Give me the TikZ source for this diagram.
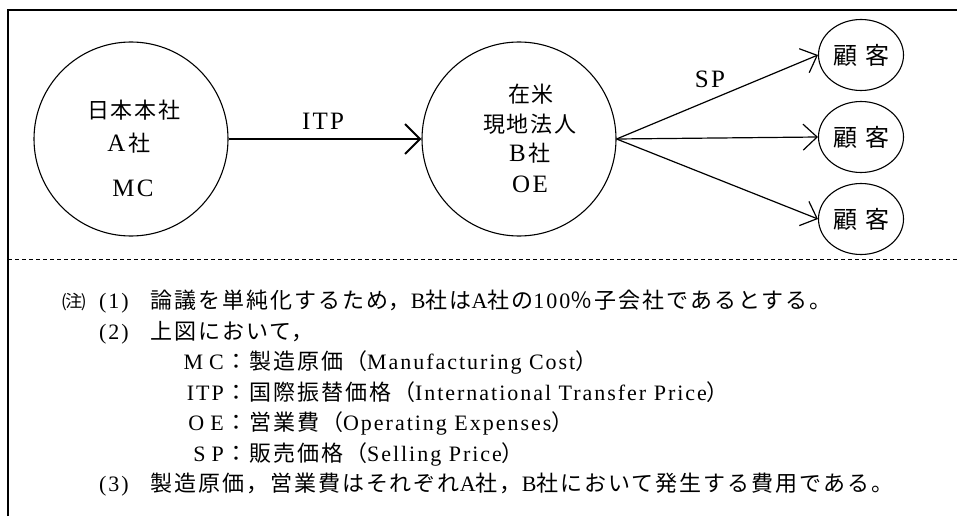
\documentclass[tikz,border=0pt]{standalone}
\usepackage{fontspec}
\setmainfont{Liberation Serif}
\newfontfamily\jp{Noto Sans CJK JP}
\newfontfamily\jps[LetterSpace=9]{Noto Sans CJK JP}
\newfontfamily\lts[LetterSpace=9]{Liberation Serif}
\usetikzlibrary{arrows.meta,shapes.geometric}
\tikzset{
  circ/.style={circle, draw, line width=1.1pt, minimum size=194pt, inner sep=0pt},
  cust/.style={ellipse, draw, line width=1.1pt, minimum width=85pt, minimum height=71pt, inner sep=0pt,
    font=\jp\fontsize{24}{24}\selectfont},
  jtxt/.style={inner sep=0pt, font=\jps\fontsize{22}{22}\selectfont},
  ltxt/.style={inner sep=0pt, font=\lts\fontsize{25}{25}\selectfont},
  leg/.style={inner sep=0pt, anchor=base west, font=\jps\fontsize{22}{22}\selectfont},
  legr/.style={inner sep=0pt, anchor=base east, font=\lts\fontsize{22}{22}\selectfont},
  itparrow/.style={line width=2pt, -{Straight Barb[length=15pt, width=30pt]}},
  sparrow/.style={line width=1.2pt, -{Straight Barb[length=14pt, width=26pt]}},
  frameline/.style={line width=1.3pt},
  sepline/.style={line width=1pt, dash pattern=on 4pt off 3pt}
}
\newcommand{\lat}[1]{{\lts #1}}
\begin{document}
\begin{tikzpicture}[x=1pt,y=-1pt]
\useasboundingbox (0,0) rectangle (957,516);
% frame
\coordinate (fbl) at (8,516);
\coordinate (ftl) at (8,10);
\coordinate (ftr) at (957,10);
\draw[frameline] (fbl) -- (ftl) -- (ftr);
\coordinate (sl) at (8,259);
\coordinate (sr) at (957,259);
\draw[sepline] (sl) -- (sr);

% nodes
\node[circ] (A) at (131,139) {};
\node[circ] (B) at (519,139) {};
\node[cust] (c1) at (861,55) {顧\hspace{8pt}客};
\node[cust] (c2) at (861,137) {顧\hspace{8pt}客};
\node[cust] (c3) at (861,219) {顧\hspace{8pt}客};

% texts in A
\node[jtxt] (a1) at (134,110) {日本本社};
\node[jtxt] (a2) at (129,143) {{\lts\fontsize{25}{25}\selectfont A}\hspace{3pt}社};
\node[ltxt] (a3) at (133,188) {MC};
% texts in B
\node[jtxt] (b1) at (531,94) {在米};
\node[jtxt] (b2) at (530,124) {現地法人};
\node[jtxt] (b3) at (530,153) {{\lts\fontsize{25}{25}\selectfont B}\hspace{3pt}社};
\node[ltxt] (b4) at (530,184) {OE};

% connectors
\draw[itparrow] (A) -- (B);
\draw[sparrow] (B.east) -- (c1.west);
\draw[sparrow] (B.east) -- (c2.west);
\draw[sparrow] (B.east) -- (c3.west);
\node[ltxt] (itp) at (323,121) {ITP};
\node[ltxt] (sp) at (710,79) {SP};

% legend
\node[leg] (n0) at (61,307) {\jp\fontsize{17}{17}\selectfont (\kern-1.5pt注\kern-1.5pt)};
\node[leg] (n1) at (99,308) {\lat{(1)}};
\node[leg] (n1t) at (150,308) {論議を単純化するため，\lat{B}社は\lat{A}社の\lat{100}％子会社であるとする。};
\node[leg] (n2) at (99,339) {\lat{(2)}};
\node[leg] (n2t) at (150,339) {上図において，};
\node[legr] (l1) at (224,369) {M\hspace{6pt}C};
\node[leg] (l1t) at (225,369) {：製造原価（\lat{Manufacturing Cost}）};
\node[legr] (l2) at (224,400) {ITP};
\node[leg] (l2t) at (225,400) {：国際振替価格（\lat{International Transfer Price}）};
\node[legr] (l3) at (224,430) {O\hspace{6pt}E};
\node[leg] (l3t) at (225,430) {：営業費（\lat{Operating Expenses}）};
\node[legr] (l4) at (224,461) {S\hspace{6pt}P};
\node[leg] (l4t) at (225,461) {：販売価格（\lat{Selling Price}）};
\node[leg] (n3) at (99,491) {\lat{(3)}};
\node[leg] (n3t) at (150,491) {製造原価，営業費はそれぞれ\lat{A}社，\lat{B}社において発生する費用である。};
\end{tikzpicture}
\end{document}
